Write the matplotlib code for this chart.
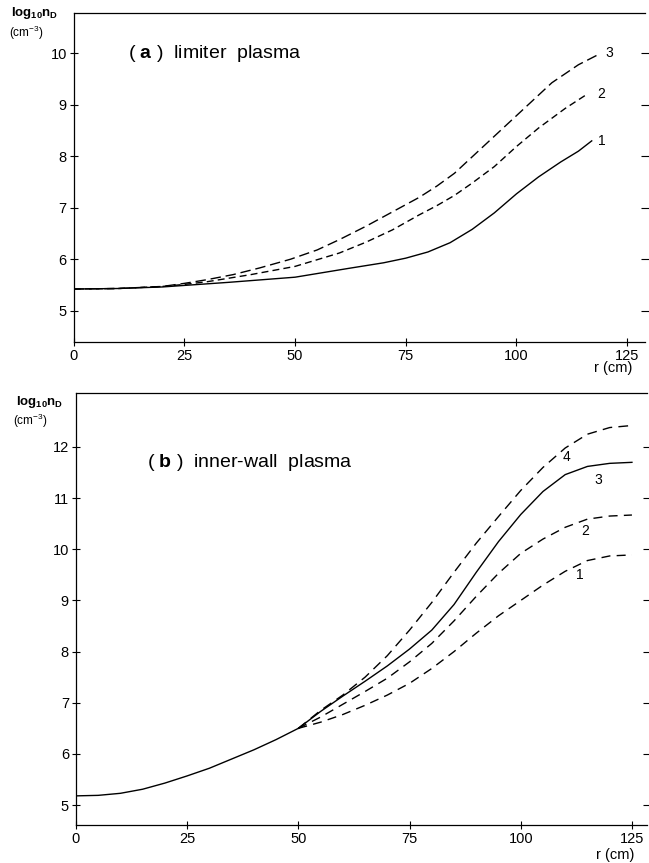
import matplotlib
matplotlib.use('Agg')
import matplotlib.pyplot as plt

plt.rcParams['font.family'] = ['Liberation Sans', 'DejaVu Sans']
plt.rcParams['mathtext.fontset'] = 'custom'
plt.rcParams['mathtext.rm'] = 'Liberation Sans'
plt.rcParams['mathtext.bf'] = 'Liberation Sans:bold'

# (a) limiter plasma
a_r1 = [0, 10, 20, 25, 35, 50, 62, 70, 75, 80, 85, 90, 95, 100, 105, 110, 114, 117]
a_v1 = [5.42, 5.43, 5.46, 5.49, 5.55, 5.65, 5.82, 5.93, 6.02, 6.14, 6.32, 6.58, 6.90, 7.27, 7.60, 7.89, 8.10, 8.30]
a_r2 = [0, 10, 20, 25, 30, 40, 50, 60, 66, 72, 78, 82, 86, 90, 95, 100, 105, 111, 116]
a_v2 = [5.42, 5.43, 5.47, 5.51, 5.56, 5.70, 5.86, 6.12, 6.33, 6.57, 6.86, 7.04, 7.24, 7.48, 7.80, 8.19, 8.55, 8.93, 9.21]
a_r3 = [0, 10, 20, 25, 30, 36, 42, 49, 55, 60, 66, 72, 78, 82, 86, 92, 98, 103, 108, 114, 119]
a_v3 = [5.42, 5.43, 5.47, 5.53, 5.60, 5.70, 5.83, 6.00, 6.18, 6.38, 6.64, 6.92, 7.20, 7.42, 7.67, 8.15, 8.63, 9.03, 9.43, 9.78, 10.0]

# (b) inner-wall plasma
b_r0 = [0, 5, 10, 15, 20, 25, 30, 35, 40, 45, 50]
b_v0 = [5.18, 5.19, 5.23, 5.31, 5.43, 5.57, 5.72, 5.90, 6.08, 6.28, 6.50]
b_r = [50, 55, 60, 65, 70, 75, 80, 85, 90, 95, 100, 105, 110, 115, 120, 125]
b_v1 = [6.50, 6.62, 6.77, 6.95, 7.15, 7.38, 7.67, 8.00, 8.36, 8.70, 9.00, 9.30, 9.57, 9.78, 9.87, 9.89]
b_v2 = [6.50, 6.72, 6.97, 7.22, 7.48, 7.80, 8.16, 8.60, 9.08, 9.53, 9.92, 10.20, 10.43, 10.59, 10.65, 10.67]
b_v3 = [6.50, 6.83, 7.13, 7.42, 7.72, 8.05, 8.42, 8.92, 9.55, 10.15, 10.68, 11.13, 11.46, 11.62, 11.68, 11.70]
b_v4 = [6.50, 6.85, 7.15, 7.50, 7.92, 8.42, 8.96, 9.55, 10.12, 10.64, 11.15, 11.60, 11.98, 12.25, 12.38, 12.42]

x_ticks = [0, 25, 50, 75, 100, 125]

fig = plt.figure(figsize=(6.49, 8.63), dpi=100)
ax1 = fig.add_axes([0.1136, 0.6037, 0.880, 0.3809])
ax2 = fig.add_axes([0.117, 0.044, 0.880, 0.5003])


def style_axes(ax, yticks):
    ax.spines['right'].set_visible(False)
    for s in ['left', 'bottom', 'top']:
        ax.spines[s].set_linewidth(0.9)
    ax.set_xticks(x_ticks)
    ax.set_yticks(yticks)
    ax.tick_params(axis='both', direction='inout', length=6, width=0.8,
                   labelsize=10.5, pad=2)
    # right side: short ticks only, no labels
    ax.tick_params(axis='y', right=True, labelright=False)


line = dict(color='black', lw=1.0)

# ---- panel (a) ----
ax1.plot(a_r1, a_v1, **line)
ax1.plot(a_r2, a_v2, dashes=(5, 3), **line)
ax1.plot(a_r3, a_v3, dashes=(7.5, 3.5), **line)
ax1.set_xlim(0, 129)
ax1.set_ylim(4.39, 10.78)
style_axes(ax1, [5, 6, 7, 8, 9, 10])
ax1.text(a_r3[-1] + 1.2, a_v3[-1], '3', fontsize=10, va='center')
ax1.text(a_r2[-1] + 2.2, a_v2[-1], '2', fontsize=10, va='center')
ax1.text(a_r1[-1] + 1.5, a_v1[-1], '1', fontsize=10, va='center')
ax1.text(0.095, 0.879, r'( $\mathbf{a}$ )  limiter  plasma', transform=ax1.transAxes,
         fontsize=14, va='center')
ax1.text(-0.11, 1.0, r'$\mathbf{log_{10}n_D}$', transform=ax1.transAxes, fontsize=9.5, va='center')
ax1.text(-0.113, 0.94, r'(cm$^{-3}$)', transform=ax1.transAxes, fontsize=8.5, va='center')
ax1.text(0.945, -0.08, 'r (cm)', transform=ax1.transAxes, fontsize=10.5, ha='center', va='center')

# ---- panel (b) ----
ax2.plot(b_r0, b_v0, **line)
ax2.plot(b_r, b_v1, dashes=(6.5, 4.5), **line)
ax2.plot(b_r, b_v2, dashes=(6.5, 4.5), **line)
ax2.plot(b_r, b_v3, **line)
ax2.plot(b_r, b_v4, dashes=(7, 4.5), **line)
ax2.set_xlim(0, 128.4)
ax2.set_ylim(4.61, 13.05)
style_axes(ax2, [5, 6, 7, 8, 9, 10, 11, 12])
ax2.text(109.5, 11.8, '4', fontsize=10, va='center')
ax2.text(116.5, 11.35, '3', fontsize=10, va='center')
ax2.text(113.5, 10.35, '2', fontsize=10, va='center')
ax2.text(112.5, 9.5, '1', fontsize=10, va='center')
ax2.text(0.124, 0.839, r'( $\mathbf{b}$ )  inner-wall  plasma', transform=ax2.transAxes,
         fontsize=14, va='center')
ax2.text(-0.105, 0.98, r'$\mathbf{log_{10}n_D}$', transform=ax2.transAxes, fontsize=9.5, va='center')
ax2.text(-0.11, 0.935, r'(cm$^{-3}$)', transform=ax2.transAxes, fontsize=8.5, va='center')
ax2.text(0.945, -0.07, 'r (cm)', transform=ax2.transAxes, fontsize=10.5, ha='center', va='center')

plt.savefig('out.png', dpi=100)
